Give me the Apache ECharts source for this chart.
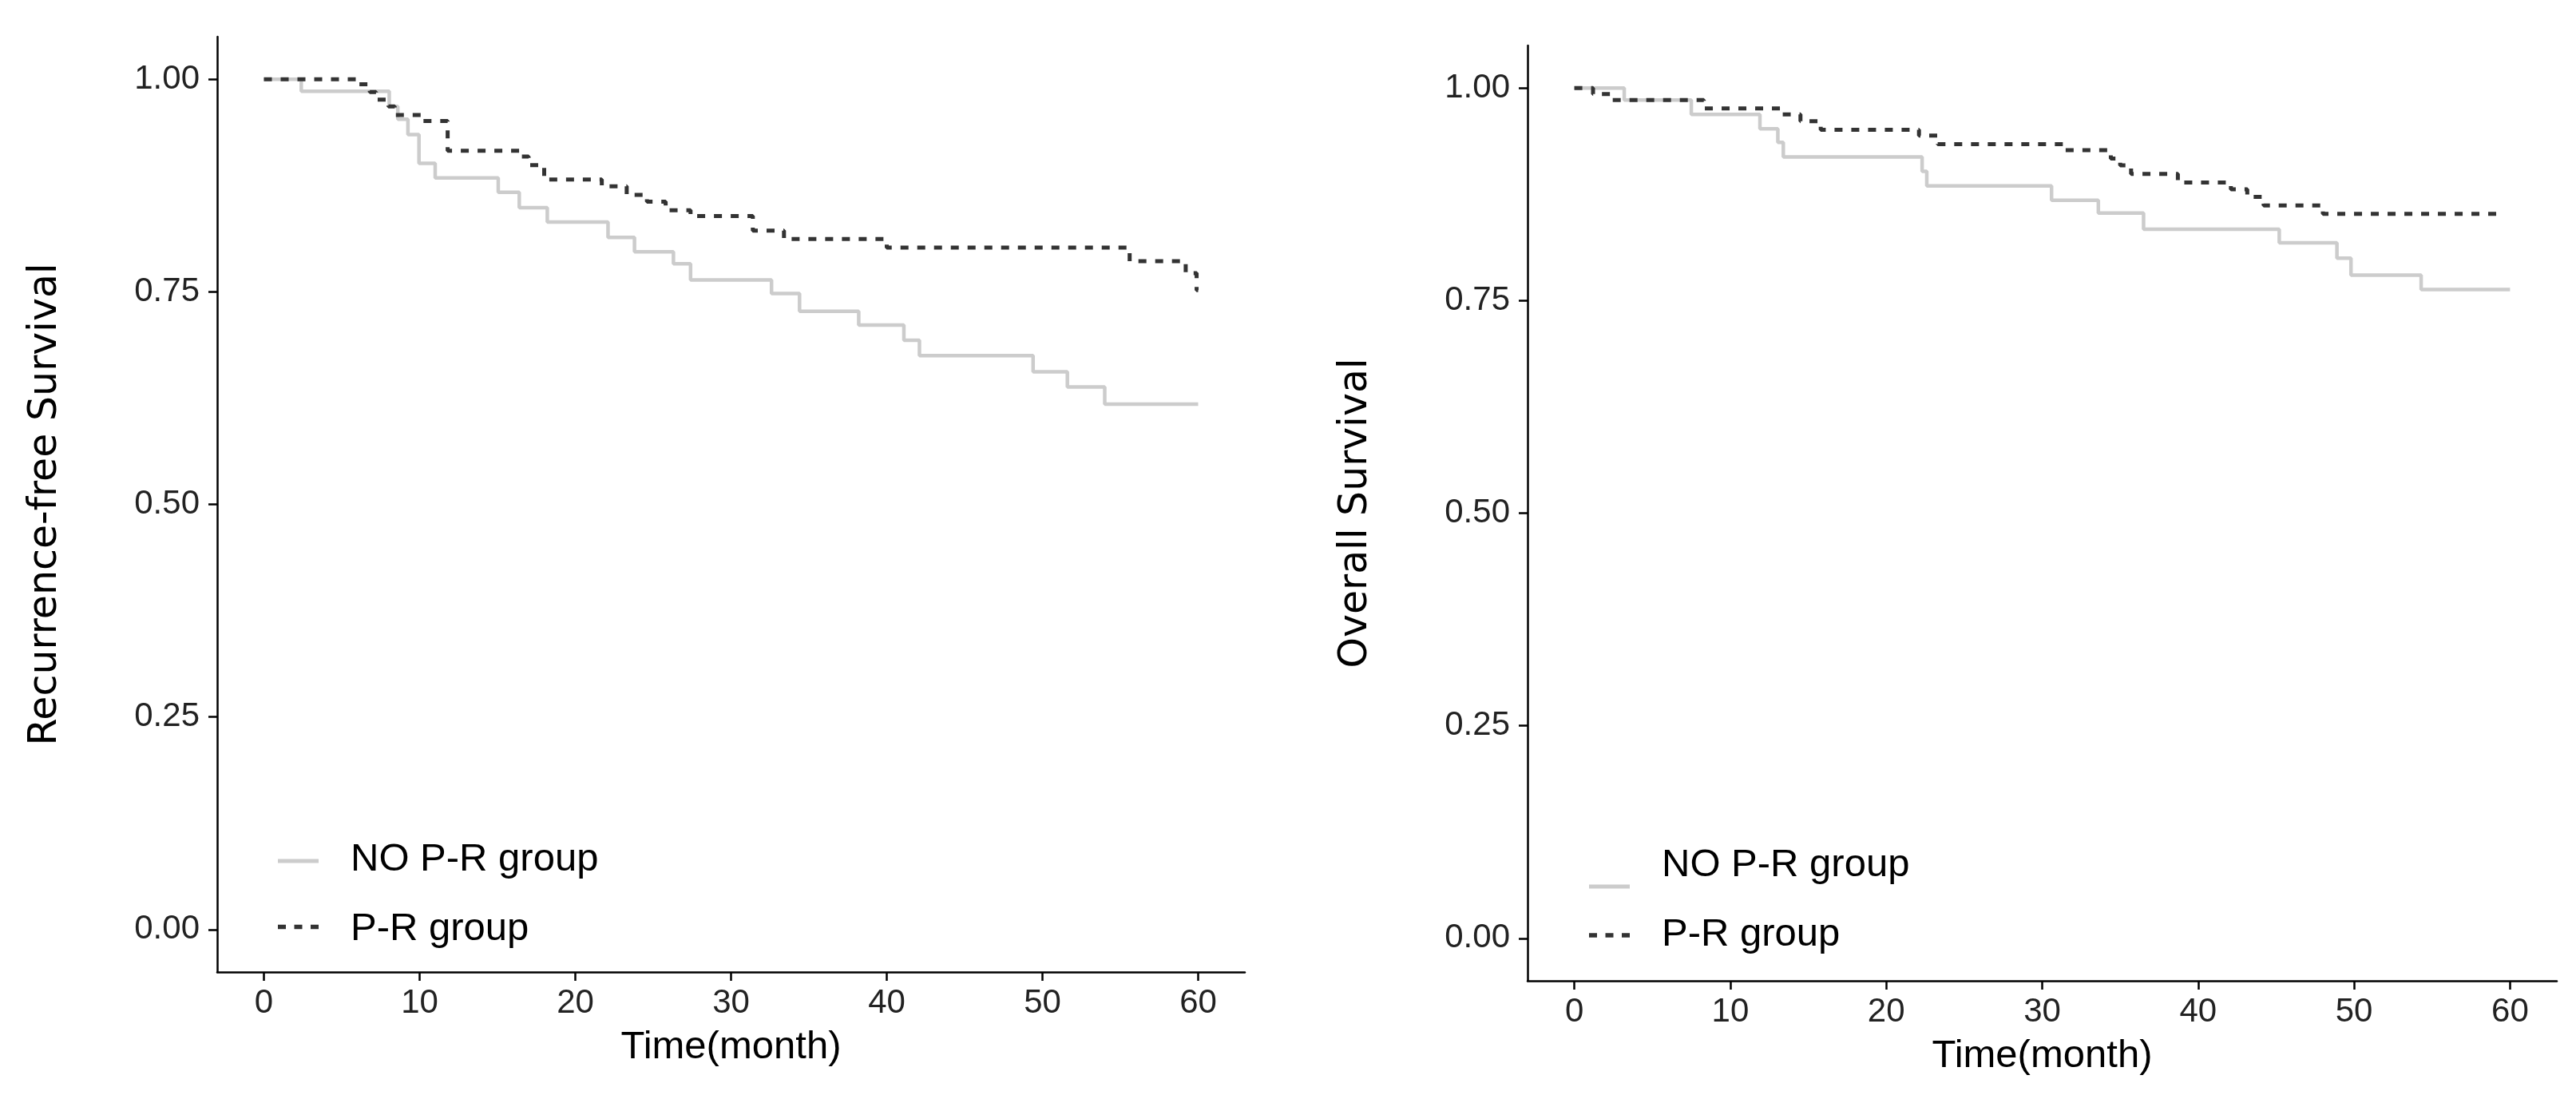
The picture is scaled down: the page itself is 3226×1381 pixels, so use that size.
<!DOCTYPE html>
<html>
<head>
<meta charset="utf-8">
<script src="https://cdn.jsdelivr.net/npm/echarts@6/dist/echarts.min.js"></script>
<style>
html,body{margin:0;padding:0;background:#fff;}
#chart{width:3226px;height:1381px;}
</style>
</head>
<body>
<div id="chart"></div>
<script>
// ---- Data ----
const groupNames = ['NO P-R group', 'P-R group'];
const xTicks = [0, 10, 20, 30, 40, 50, 60];
const yTicks = [0, 0.25, 0.5, 0.75, 1.0];

// Recurrence-free survival
const rfsTimeNo = [0, 2.4, 8.05, 8.6, 9.25, 9.96, 11.0, 15.05, 16.4, 18.2, 22.1, 23.8, 26.3, 27.4, 32.6, 34.4, 38.2, 41.1, 42.1, 49.4, 51.6, 54.0, 60];
const rfsSurvNo = [1.00, 0.986, 0.968, 0.953, 0.935, 0.901, 0.884, 0.867, 0.849, 0.832, 0.814, 0.797, 0.783, 0.764, 0.748, 0.727, 0.711, 0.693, 0.675, 0.656, 0.638, 0.618, 0.618];
const rfsTimePR = [0, 5.9, 6.8, 7.2, 8.0, 8.4, 10.1, 11.8, 16.4, 17.0, 18.0, 21.7, 23.3, 24.6, 25.8, 27.4, 31.4, 33.4, 40.0, 55.6, 59.2, 59.9, 60];
const rfsSurvPR = [1.00, 0.994, 0.985, 0.976, 0.968, 0.958, 0.951, 0.916, 0.909, 0.899, 0.882, 0.874, 0.864, 0.856, 0.846, 0.839, 0.822, 0.812, 0.802, 0.786, 0.772, 0.752, 0.752];

// Overall survival
const osTimeNo = [0, 3.2, 7.5, 11.9, 13.05, 13.4, 22.3, 22.6, 30.6, 33.6, 36.5, 45.2, 48.9, 49.8, 54.3, 60];
const osSurvNo = [1.00, 0.986, 0.969, 0.952, 0.936, 0.919, 0.902, 0.885, 0.868, 0.853, 0.834, 0.818, 0.800, 0.780, 0.763, 0.763];
const osTimePR = [0, 1.2, 2.35, 8.3, 13.2, 14.5, 15.8, 22.1, 23.3, 31.4, 34.4, 35.0, 35.7, 38.7, 42.1, 43.15, 44.2, 48.0, 59.6];
const osSurvPR = [1.00, 0.993, 0.986, 0.976, 0.969, 0.961, 0.951, 0.944, 0.934, 0.927, 0.917, 0.909, 0.899, 0.889, 0.881, 0.872, 0.862, 0.852, 0.852];

const FONT = '"Liberation Sans", Arial, sans-serif';
const TITLE_FONT = '"DejaVu Sans", "Liberation Sans", sans-serif';
const pairs = (t, s) => t.map((v, i) => [v, s[i]]);

function xAxisCfg(gridIndex) {
  return {
    type: 'value', gridIndex: gridIndex, min: -3, max: 63,
    name: 'Time(month)', nameLocation: 'middle', nameGap: 70,
    nameTextStyle: {fontFamily: FONT, fontSize: 49, color: '#000'},
    axisLine: {show: true, onZero: false, lineStyle: {color: '#000', width: 2.5}},
    axisTick: {show: true, inside: false, length: 11, lineStyle: {color: '#000', width: 2.5}, customValues: xTicks},
    axisLabel: {show: true, fontFamily: FONT, fontSize: 42, color: '#222', margin: 18, customValues: xTicks},
    splitLine: {show: false}
  };
}
function yAxisCfg(gridIndex, title) {
  return {
    type: 'value', gridIndex: gridIndex, min: -0.05, max: 1.05,
    name: title, nameLocation: 'middle', nameGap: 190,
    nameTextStyle: {fontFamily: TITLE_FONT, fontSize: 49, color: '#000'},
    axisLine: {show: true, onZero: false, lineStyle: {color: '#000', width: 2.5}},
    axisTick: {show: true, inside: false, length: 11, lineStyle: {color: '#000', width: 2.5}, customValues: yTicks},
    axisLabel: {show: true, fontFamily: FONT, fontSize: 42, color: '#222', margin: 22, customValues: yTicks,
      formatter: v => v.toFixed(2)},
    splitLine: {show: false}
  };
}
function seriesCfg(name, idx, data, dashed) {
  return {
    name: name, type: 'line', xAxisIndex: idx, yAxisIndex: idx,
    step: 'end', showSymbol: false, symbol: 'none', data: data, silent: true,
    animation: false,
    lineStyle: dashed ? {color: '#333333', width: 5, type: [10, 11]} : {color: '#cccccc', width: 4.5, type: 'solid'},
    itemStyle: {color: dashed ? '#333333' : '#cccccc'}
  };
}
// legend key shapes (tiny corner squares only fix the key box size)
function solidKey(h, yc) {
  return 'path://M0,0h0.01v0.01h-0.01z M0,' + (yc - 2.5) + 'h51v5h-51z M51,' + h + 'h-0.01v-0.01h0.01z';
}
function dashKey(h, yc) {
  const y = yc - 2.75;
  return 'path://M0,0h0.01v0.01h-0.01z M0,' + y + 'h10v5.5h-10z M20.5,' + y + 'h10v5.5h-10z M41,' + y +
    'h10v5.5h-10z M51,' + h + 'h-0.01v-0.01h0.01z';
}
function legendCfg(left, top, h, gap, solidY, dashY) {
  return {
    orient: 'vertical', left: left, top: top,
    data: [{name: groupNames[0], icon: solidKey(h, solidY)}, {name: groupNames[1], icon: dashKey(h, dashY)}],
    itemWidth: 51, itemHeight: h, itemGap: gap, selectedMode: false, symbolKeepAspect: false,
    itemStyle: {borderWidth: 0},
    textStyle: {fontFamily: FONT, fontSize: 49, color: '#000', lineHeight: 56, padding: [0, 0, 0, 35]}
  };
}

const chart = echarts.init(document.getElementById('chart'), null, {renderer: 'canvas'});
chart.setOption({
  backgroundColor: '#fff',
  animation: false,
  grid: [
    {left: 272, top: 46, width: 1287, height: 1171},
    {left: 1913, top: 57, width: 1289, height: 1171}
  ],
  xAxis: [xAxisCfg(0), xAxisCfg(1)],
  yAxis: [yAxisCfg(0, 'Recurrence-free Survival'), yAxisCfg(1, 'Overall Survival')],
  legend: [legendCfg(343, 1043, 56, 31, 30, 25.5), legendCfg(1985, 1048, 60, 27, 57, 31)],
  series: [
    seriesCfg(groupNames[0], 0, pairs(rfsTimeNo, rfsSurvNo), false),
    seriesCfg(groupNames[1], 0, pairs(rfsTimePR, rfsSurvPR), true),
    seriesCfg(groupNames[0], 1, pairs(osTimeNo, osSurvNo), false),
    seriesCfg(groupNames[1], 1, pairs(osTimePR, osSurvPR), true)
  ]
});
</script>
</body>
</html>
